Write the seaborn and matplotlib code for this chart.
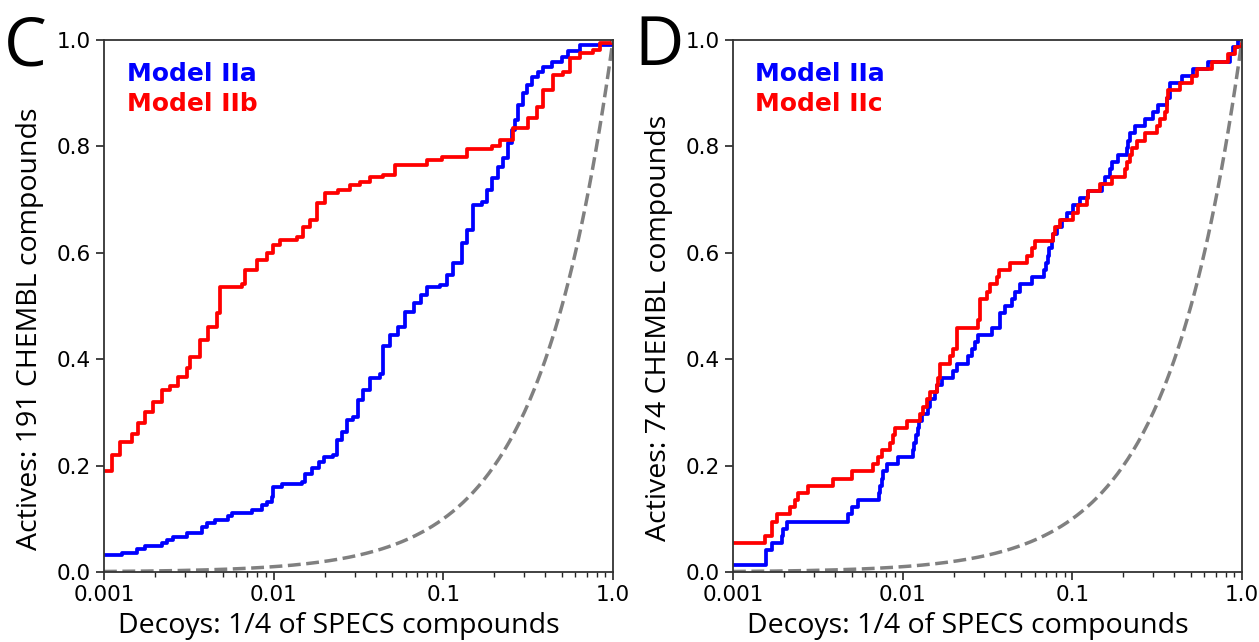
import numpy as np
import pandas as pd
import matplotlib
matplotlib.use("Agg")
import matplotlib.pyplot as plt
import seaborn as sns
from matplotlib.ticker import LogLocator, NullFormatter

sns.set_style("ticks")
plt.rcParams['font.family'] = ['DejaVu Sans']
plt.rcParams['text.color'] = 'black'
plt.rcParams['axes.labelcolor'] = 'black'

# ---------------- Panel C data (fraction of decoys, fraction of actives) ----------------
c_iia_x = [0.001, 0.001271, 0.001558, 0.001744, 0.002188, 0.002342, 0.002561, 0.003071, 0.003765, 0.00403,
           0.004508, 0.0054, 0.005655, 0.007419, 0.0085, 0.00909, 0.00973, 0.00995, 0.01115, 0.01462,
           0.01529, 0.01681, 0.01849, 0.01979, 0.02245, 0.0235, 0.02516, 0.02693, 0.02944, 0.03152,
           0.03373, 0.03694, 0.0423, 0.04425, 0.04845, 0.05423, 0.05939, 0.06711, 0.07379, 0.07974,
           0.0955, 0.1046, 0.1144, 0.1282, 0.1372, 0.1501, 0.1681, 0.1799, 0.1926, 0.2106,
           0.2254, 0.2413, 0.2527, 0.2642, 0.2764, 0.2957, 0.3097, 0.3314, 0.3625, 0.3879,
           0.4346, 0.4979, 0.5445, 0.6383, 0.981, 1.0]
c_iia_y = [0.032, 0.036, 0.043, 0.048, 0.054, 0.061, 0.065, 0.074, 0.085, 0.092,
           0.098, 0.105, 0.111, 0.117, 0.126, 0.132, 0.141, 0.159, 0.165, 0.17,
           0.185, 0.195, 0.207, 0.217, 0.22, 0.248, 0.264, 0.286, 0.292, 0.323,
           0.342, 0.364, 0.373, 0.424, 0.445, 0.461, 0.489, 0.505, 0.52, 0.536,
           0.539, 0.558, 0.58, 0.618, 0.643, 0.69, 0.696, 0.718, 0.74, 0.762,
           0.778, 0.806, 0.831, 0.85, 0.878, 0.90, 0.915, 0.931, 0.94, 0.95,
           0.959, 0.968, 0.98, 0.99, 1.0, 1.0]

c_iib_x = [0.001, 0.00111, 0.001242, 0.001456, 0.001585, 0.001744, 0.001944, 0.002188, 0.002448, 0.002729,
           0.003069, 0.003213, 0.00368, 0.0041, 0.004613, 0.004827, 0.006477, 0.006775, 0.007937, 0.00909,
           0.0099, 0.01089, 0.01366, 0.01488, 0.01637, 0.01792, 0.02005, 0.02393, 0.02816, 0.03225,
           0.03694, 0.04406, 0.05186, 0.07974, 0.09772, 0.1371, 0.1926, 0.2156, 0.2582, 0.3152,
           0.3546, 0.3864, 0.4424, 0.5067, 0.5572, 0.6383, 0.7615, 0.8373, 0.981, 1.0]
c_iib_y = [0.19, 0.22, 0.245, 0.26, 0.28, 0.30, 0.32, 0.342, 0.35, 0.367,
           0.383, 0.405, 0.436, 0.461, 0.486, 0.536, 0.541, 0.568, 0.586, 0.60,
           0.614, 0.624, 0.63, 0.649, 0.662, 0.693, 0.712, 0.718, 0.727, 0.734,
           0.743, 0.746, 0.765, 0.774, 0.78, 0.796, 0.80, 0.812, 0.834, 0.853,
           0.875, 0.906, 0.934, 0.94, 0.966, 0.975, 0.981, 0.994, 1.0, 1.0]

# ---------------- Panel D data (fraction of decoys, number of actives out of 74) ----------------
d_total = 74
d_iia_x = [0.001, 0.001565, 0.00169, 0.001936, 0.001979, 0.002073, 0.004779, 0.005006, 0.005476, 0.00725,
           0.007349, 0.007521, 0.007686, 0.008048, 0.009421, 0.01146, 0.0117, 0.01198, 0.01226, 0.01253,
           0.01294, 0.01415, 0.01448, 0.0155, 0.01586, 0.01698, 0.01987, 0.0208, 0.02436, 0.0255,
           0.02667, 0.0279, 0.03346, 0.03745, 0.04008, 0.04389, 0.0459, 0.04911, 0.05757, 0.06804,
           0.06962, 0.07155, 0.07312, 0.07551, 0.07718, 0.08082, 0.0865, 0.09256, 0.1012, 0.1109,
           0.1241, 0.1488, 0.1556, 0.1666, 0.1718, 0.1865, 0.2089, 0.2135, 0.2185, 0.2338,
           0.2678, 0.2998, 0.3209, 0.3595, 0.3759, 0.4407, 0.5158, 0.6322, 0.8488, 0.8803,
           0.9497, 1.0]
d_iia_n = [1, 3, 4, 5, 6, 7, 8, 9, 10, 11,
           12, 13, 14, 15, 16, 17, 18, 19, 20, 21,
           22, 23, 24, 25, 26, 27, 28, 29, 30, 31,
           32, 33, 34, 36, 37, 38, 39, 40, 41, 42,
           43, 44, 45, 46, 47, 48, 49, 50, 51, 52,
           53, 54, 55, 56, 57, 58, 59, 60, 61, 62,
           63, 64, 65, 66, 68, 69, 70, 71, 72, 73,
           74, 74]

d_iic_x = [0.001, 0.001544, 0.00169, 0.001809, 0.002168, 0.002319, 0.002426, 0.002778, 0.0039, 0.005006,
           0.006711, 0.007181, 0.007521, 0.008418, 0.0088, 0.009005, 0.01056, 0.01265, 0.01323, 0.01385,
           0.01448, 0.01586, 0.01621, 0.01659, 0.019, 0.01987, 0.0208, 0.0279, 0.02855, 0.03126,
           0.03269, 0.0358, 0.03708, 0.04289, 0.05379, 0.05757, 0.0602, 0.07718, 0.07898, 0.08453,
           0.1012, 0.1083, 0.1214, 0.1241, 0.1455, 0.1705, 0.2042, 0.2089, 0.2185, 0.2236,
           0.2393, 0.2678, 0.314, 0.3283, 0.3513, 0.3595, 0.3674, 0.4307, 0.5047, 0.5402,
           0.6621, 0.8295, 0.9082, 1.0]
d_iic_n = [4, 5, 7, 8, 9, 10, 11, 12, 13, 14,
           15, 16, 17, 18, 19, 20, 21, 22, 23, 24,
           25, 26, 27, 29, 30, 31, 34, 35, 38, 39,
           40, 41, 42, 43, 44, 45, 46, 47, 48, 49,
           50, 51, 52, 53, 54, 55, 56, 57, 58, 59,
           60, 61, 62, 63, 64, 66, 67, 68, 69, 70,
           71, 72, 73, 74]

# random-selection reference (diagonal y = x)
random_x = np.geomspace(0.001, 1.0, 300)

x_ticks = [0.001, 0.01, 0.1, 1.0]
x_ticklabels = ['0.001', '0.01', '0.1', '1.0']
y_ticks = [0.0, 0.2, 0.4, 0.6, 0.8, 1.0]
y_ticklabels = ['0.0', '0.2', '0.4', '0.6', '0.8', '1.0']

BLUE = '#0000ff'
RED = '#ff0000'
GRAY = '#808080'

W, H = 1259, 642
fig = plt.figure(figsize=(W / 100, H / 100), dpi=100)
axC = fig.add_axes([104 / W, 70 / H, 509 / W, 532 / H])
axD = fig.add_axes([733 / W, 70 / H, 509 / W, 532 / H])

LABEL_FONT = ['Open Sans', 'DejaVu Sans']


def draw(ax, curves, names, ylabel, letter, letter_x, name_x):
    for (x, y, col) in curves:
        df = pd.DataFrame({'x': x, 'y': y})
        sns.lineplot(data=df, x='x', y='y', ax=ax, color=col, linewidth=2.7,
                     drawstyle='steps-post', estimator=None, sort=False)
    sns.lineplot(x=random_x, y=random_x, ax=ax, color=GRAY, linewidth=2.5,
                 linestyle='--', estimator=None, sort=False)
    ax.set_xscale('log')
    ax.set_xlim(0.001, 1.0)
    ax.set_ylim(0.0, 1.0)
    ax.set_xticks(x_ticks)
    ax.set_xticklabels(x_ticklabels)
    ax.xaxis.set_minor_locator(LogLocator(base=10, subs=np.arange(2, 10)))
    ax.xaxis.set_minor_formatter(NullFormatter())
    ax.set_yticks(y_ticks)
    ax.set_yticklabels(y_ticklabels)
    ax.tick_params(axis='both', which='major', length=6, width=1.2, direction='out',
                   labelsize=15.5, top=False, right=False, color='#222222', labelcolor='black')
    ax.tick_params(axis='x', which='minor', length=3.5, width=1.0, direction='out',
                   top=False, color='#222222')
    for sp in ax.spines.values():
        sp.set_visible(True)
        sp.set_linewidth(1.3)
        sp.set_color('#333333')
    ax.set_xlabel('Decoys: 1/4 of SPECS compounds', fontsize=20.5, family=LABEL_FONT,
                  labelpad=5, color='black', x=0.461)
    ax.set_ylabel(ylabel, fontsize=20.5, family=LABEL_FONT, labelpad=9, color='black', y=0.458)
    ax.text(name_x, 0.9235, names[0], transform=ax.transAxes, color=BLUE, fontsize=18,
            fontweight='bold', va='baseline', ha='left')
    ax.text(name_x, 0.867, names[1], transform=ax.transAxes, color=RED, fontsize=18,
            fontweight='bold', va='baseline', ha='left')
    fig.text(letter_x, 1 - 65 / H, letter, fontsize=49, family=LABEL_FONT,
             va='baseline', ha='left', color='black')


draw(axC,
     [(c_iia_x, c_iia_y, BLUE), (c_iib_x, c_iib_y, RED)],
     ['Model IIa', 'Model IIb'],
     'Actives: 191 CHEMBL compounds', 'C', 4 / W, 0.045)

draw(axD,
     [(d_iia_x, np.array(d_iia_n) / d_total, BLUE), (d_iic_x, np.array(d_iic_n) / d_total, RED)],
     ['Model IIa', 'Model IIc'],
     'Actives: 74 CHEMBL compounds', 'D', 634 / W, 0.043)

fig.savefig('out.png', dpi=100)
